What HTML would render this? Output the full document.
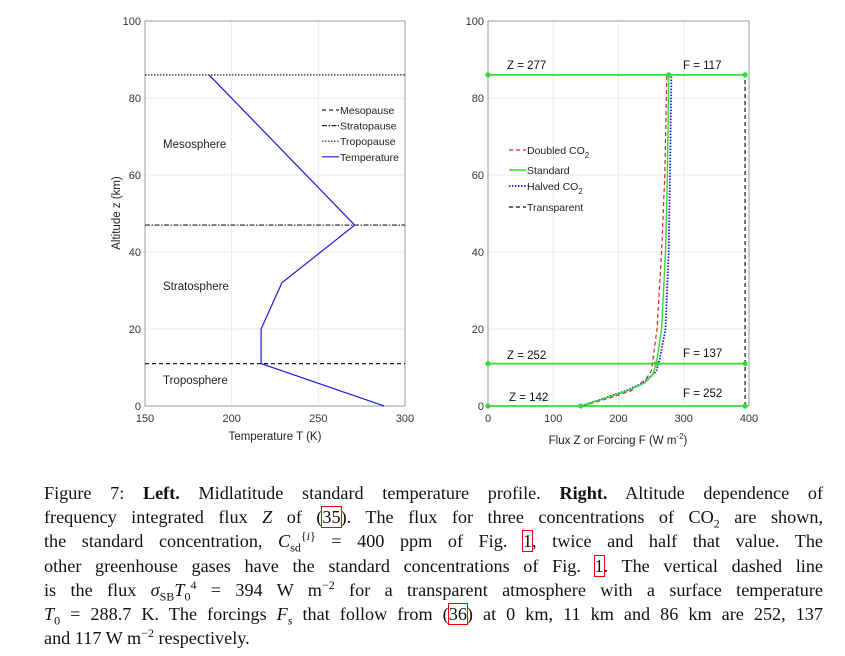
<!DOCTYPE html>
<html><head><meta charset="utf-8">
<style>
body{margin:0;background:#fff;width:845px;height:656px;overflow:hidden;position:relative}
svg{position:absolute;left:0;top:0}
.cap{position:absolute;left:44px;width:779px;font-family:"Liberation Serif",serif;font-size:18.2px;color:#111;text-align:justify;text-align-last:justify;white-space:nowrap;line-height:24px}
.cap.last{text-align-last:left}
.ref{outline:1.5px solid #e00;outline-offset:0}
sub,sup{font-size:12px;line-height:0}
</style></head><body>
<svg id="chart" width="845" height="470" xmlns="http://www.w3.org/2000/svg" font-family="Liberation Sans, sans-serif"></svg>
<div class="cap" style="top:481px">Figure 7: <b>Left.</b> Midlatitude standard temperature profile. <b>Right.</b> Altitude dependence of</div>
<div class="cap" style="top:505px">frequency integrated flux <i>Z</i> of (<span class="ref">35</span>). The flux for three concentrations of CO<sub>2</sub> are shown,</div>
<div class="cap" style="top:529px">the standard concentration, <i>C</i><sub>sd</sub><sup>{<i>i</i>}</sup> = 400 ppm of Fig. <span class="ref">1</span>, twice and half that value. The</div>
<div class="cap" style="top:554px">other greenhouse gases have the standard concentrations of Fig. <span class="ref">1</span>. The vertical dashed line</div>
<div class="cap" style="top:578px">is the flux <i>σ</i><sub>SB</sub><i>T</i><sub>0</sub><sup>4</sup> = 394 W m<sup>−2</sup> for a transparent atmosphere with a surface temperature</div>
<div class="cap" style="top:602px"><i>T</i><sub>0</sub> = 288.7 K. The forcings <i>F<sub>s</sub></i> that follow from (<span class="ref">36</span>) at 0 km, 11 km and 86 km are 252, 137</div>
<div class="cap last" style="top:626px">and 117 W m<sup>−2</sup> respectively.</div>
<script>
const altTicks=[0,20,40,60,80,100];
const tempTicks=[150,200,250,300];
const fluxTicks=[0,100,200,300,400];
const tempAlt=[0,11,20,32,47,86];
const tempVal=[288,217,217,229,271,187];
const pauseAlts=[11,47,86];
const stdFlux=[142,180,215,240,252,258,266,272,275,277];
const stdAlt=[0,2,4,6,8,11,20,40,60,86];
const dblFlux=[145,185,220,242,250,252,259,266,271,274];
const dblAlt=[0,2,4,7,9,11,20,40,60,86];
const halfFlux=[143,178,212,238,258,263,272,277,279,281];
const halfAlt=[0,2,4,6,9,12,20,40,60,86];
const transparentFlux=394;
const levelAlts=[0,11,86];
const zVals=[142,252,277];
const fVals=[252,137,117];
const zMarkFlux=[142,258,277];

const svg=document.getElementById('chart');
const NS='http://www.w3.org/2000/svg';
function mk(tag,attrs,parent){const e=document.createElementNS(NS,tag);for(const k in attrs)e.setAttribute(k,attrs[k]);(parent||svg).appendChild(e);return e;}
function txt(s,x,y,attrs,parent){const t=mk('text',Object.assign({x:x,y:y,'font-size':11,fill:'#333'},attrs||{}),parent);t.textContent=s;return t;}
const yTop=21,yBot=406;
const yA=a=>yBot-(a/100)*(yBot-yTop);
const L={x0:145,x1:405},R={x0:488,x1:749};
const xT=t=>L.x0+(t-150)/150*(L.x1-L.x0);
const xF=f=>R.x0+f/400*(R.x1-R.x0);

function frame(P,ticks,xf,name){
  const g=mk('g',{});
  
  
  mk('rect',{x:P.x0,y:yTop,width:P.x1-P.x0,height:yBot-yTop,fill:'#fff'},g);
  altTicks.forEach(a=>{
    const l=mk('line',{x1:P.x0,x2:P.x1,y1:yA(a),y2:yA(a),stroke:'#ebebeb','stroke-width':1},g);
    
    
    const t=txt(String(a),P.x0-4,yA(a)+4,{'text-anchor':'end'},g);
    
    
  });
  ticks.forEach(v=>{
    const l=mk('line',{x1:xf(v),x2:xf(v),y1:yTop,y2:yBot,stroke:'#ebebeb','stroke-width':1},g);
    
    
    const t=txt(String(v),xf(v),yBot+16,{'text-anchor':'middle'},g);
    
    
  });
  mk('rect',{x:P.x0,y:yTop,width:P.x1-P.x0,height:yBot-yTop,fill:'none',stroke:'#999','stroke-width':1},g);
  return g;
}
function poly(xs,ys,xf,attrs,name){
  const pts=xs.map((v,i)=>xf(v).toFixed(1)+','+yA(ys[i]).toFixed(1)).join(' ');
  const p=mk('polyline',Object.assign({points:pts,fill:'none'},attrs));
  
  
  return p;
}
// LEFT
frame(L,tempTicks,xT,'left-axes');
const pauseStyles=[{'stroke-dasharray':'4,3'},{'stroke-dasharray':'5,1.5,1.5,1.5'},{'stroke-dasharray':'1.5,1.5'}];
const pauseNames=['tropopause-line','stratopause-line','mesopause-line'];
pauseAlts.forEach((a,i)=>{
  const l=mk('line',Object.assign({x1:L.x0,x2:L.x1,y1:yA(a),y2:yA(a),stroke:'#222','stroke-width':1.2},pauseStyles[i]));
  
  
});
poly(tempVal,tempAlt,xT,{stroke:'#1a1adf','stroke-width':1.2},'temperature-line');
[['Mesosphere',144],['Stratosphere',286],['Troposphere',380]].forEach(r=>{
  const t=txt(r[0],163,r[1]+4,{'font-size':11.5,fill:'#222'});
  
  
});
const legL=[['Mesopause',{'stroke-dasharray':'4,3'},'#222'],['Stratopause',{'stroke-dasharray':'5,1.5,1.5,1.5'},'#222'],['Tropopause',{'stroke-dasharray':'1.5,1.5'},'#222'],['Temperature',{},'#1a1adf']];
legL.forEach((e,i)=>{
  const y=110+i*15.6;
  const g=mk('g',{});
  
  
  mk('line',Object.assign({x1:322,x2:339,y1:y,y2:y,stroke:e[2],'stroke-width':1.2},e[1]),g);
  txt(e[0],340,y+4,{'font-size':10.5,fill:'#222'},g);
});
const yl=txt('Altitude z (km)',0,0,{'font-size':11.5,fill:'#222','text-anchor':'middle',transform:'translate(120,213) rotate(-90)'});


const xl=txt('Temperature T (K)',275,440,{'font-size':11.5,fill:'#222','text-anchor':'middle'});



// RIGHT
frame(R,fluxTicks,xF,'right-axes');
const tr=mk('line',{x1:xF(transparentFlux),x2:xF(transparentFlux),y1:yA(0),y2:yA(86),stroke:'#111','stroke-width':1.2,'stroke-dasharray':'4,3'});


levelAlts.forEach(a=>{
  const l=mk('line',{x1:xF(0),x2:xF(transparentFlux),y1:yA(a),y2:yA(a),stroke:'#33dd33','stroke-width':1.8});
  
  
});
poly(dblFlux,dblAlt,xF,{stroke:'#e02020','stroke-width':1.2,'stroke-dasharray':'4,3'},'doubled-co2-line');
poly(halfFlux,halfAlt,xF,{stroke:'#1a1adf','stroke-width':1.8,'stroke-dasharray':'1.5,1.5'},'halved-co2-line');
poly(stdFlux,stdAlt,xF,{stroke:'#33dd33','stroke-width':1.4},'standard-line');
levelAlts.forEach((a,i)=>{
  [0,zMarkFlux[i],transparentFlux].forEach(f=>{
    const c=mk('circle',{cx:xF(f),cy:yA(a),r:2.6,fill:'#33dd33'});
    
    
  });
});
const zLabY=[397,355,65],fLabY=[393,353,65];
levelAlts.forEach((a,i)=>{
  const t1=txt('Z = '+zVals[i],507+(i==0?2:0),zLabY[i]+4,{'font-size':11.5,fill:'#111'});
  
  
  const t2=txt('F = '+fVals[i],683,fLabY[i]+4,{'font-size':11.5,fill:'#111'});
  
  
});
const legR=[['Doubled CO','2','#e02020',{'stroke-dasharray':'4,3'},150,1.2],['Standard','','#33dd33',{},170,1.4],['Halved CO','2','#1a1adf',{'stroke-dasharray':'1.5,1.5'},186,1.8],['Transparent','','#111',{'stroke-dasharray':'4,3'},207,1.2]];
legR.forEach(e=>{
  const g=mk('g',{});
  
  
  mk('line',Object.assign({x1:509,x2:526,y1:e[4],y2:e[4],stroke:e[2],'stroke-width':e[5]},e[3]),g);
  const t=txt(e[0],527,e[4]+4,{'font-size':10.5,fill:'#222'},g);
  if(e[1]){const s=document.createElementNS(NS,'tspan');s.setAttribute('font-size','8');s.setAttribute('dy','4');s.textContent=e[1];t.appendChild(s);}
});
const xr=txt('Flux Z or Forcing F (W m',618,444,{'font-size':11.5,fill:'#222','text-anchor':'middle'});
const sp=document.createElementNS(NS,'tspan');sp.setAttribute('font-size','8');sp.setAttribute('dy','-5');sp.textContent='-2';xr.appendChild(sp);
const sp2=document.createElementNS(NS,'tspan');sp2.setAttribute('dy','5');sp2.textContent=')';xr.appendChild(sp2);


</script>
</body></html>
